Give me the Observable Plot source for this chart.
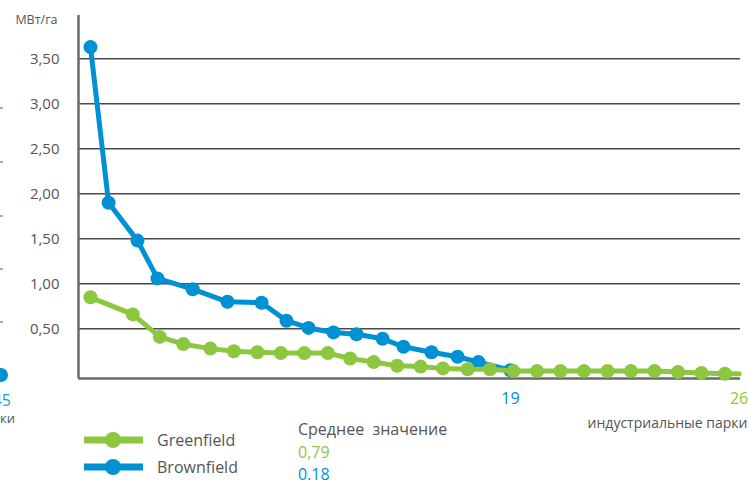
<!DOCTYPE html>
<html>
<head>
<meta charset="utf-8">
<script src="https://cdn.jsdelivr.net/npm/d3@7"></script>
<script src="https://cdn.jsdelivr.net/npm/@observablehq/plot@0.6"></script>
<style>
  html, body { margin: 0; padding: 0; background: #fff; }
  body { width: 749px; height: 480px; position: relative; overflow: hidden; font-family: "Open Sans", sans-serif; color: #555; }
  #chart { position: absolute; left: 0; top: 0; }
  .abs { position: absolute; white-space: nowrap; }
  .leg { font-size: 16px; line-height: 1; }
</style>
</head>
<body>
<div id="chart"></div>
<div class="abs" style="left:-60px; width:71px; top:389px; text-align:right; font-size:16px; color:#1a9ad6;">45</div>
<div class="abs" style="left:-60px; width:75px; top:409px; text-align:right; font-size:13px; color:#555;">парки</div>
<svg class="abs" style="left:0; top:0;" width="12" height="390">
  <g stroke="#777" stroke-width="1.2">
    <line x1="0" x2="3" y1="108" y2="108"></line>
    <line x1="0" x2="3" y1="162" y2="162"></line>
    <line x1="0" x2="3" y1="216" y2="216"></line>
    <line x1="0" x2="3" y1="269" y2="269"></line>
    <line x1="0" x2="3" y1="322" y2="322"></line>
  </g>
  <circle cx="1" cy="375" r="7" fill="#0090d4"></circle>
</svg>
<div id="legend"></div>
<script>
// ---- data ----
const seriesNames = ["Greenfield", "Brownfield"];
const seriesColors = ["#8dc63f", "#0090d4"];
const parkCounts = [26, 19];
const averages = ["0,79", "0,18"];
const yTicks = [0.5, 1.0, 1.5, 2.0, 2.5, 3.0, 3.5];

// position along the ranking (units of one park step), value in MW/ha
const greenX = [0, 1.8, 2.95, 3.95, 5.1, 6.1, 7.1, 8.1, 9.1, 10.1, 11.05, 12.05, 13.05, 14.05, 15, 16.05, 17, 18, 19, 20, 21, 22, 23, 24, 25, 26, 27];
const greenY = [0.85, 0.66, 0.41, 0.33, 0.28, 0.25, 0.24, 0.23, 0.23, 0.23, 0.17, 0.13, 0.09, 0.08, 0.06, 0.05, 0.05, 0.03, 0.03, 0.03, 0.03, 0.03, 0.03, 0.03, 0.02, 0.01, 0.0];
const greenTail = { x: 27.6, y: 0.0 };

const blueX = [0, 0.77, 2, 2.85, 4.35, 5.83, 7.28, 8.34, 9.28, 10.34, 11.32, 12.43, 13.32, 14.51, 15.62, 16.51, 17.87];
const blueY = [3.63, 1.90, 1.48, 1.06, 0.94, 0.80, 0.79, 0.59, 0.51, 0.46, 0.44, 0.39, 0.30, 0.24, 0.19, 0.13, 0.04];

const unitLabel = "МВт/га";
const xTitle = "индустриальные парки";
const avgTitle = "Среднее  значение";

// ---- build ----
const green = greenX.map((x, i) => ({ x, y: greenY[i] }));
const blue = blueX.map((x, i) => ({ x, y: blueY[i] }));
const greenLine = [...green, greenTail];
const xmin = -0.51, xmax = 27.66, ymin = -0.052, ymax = 3.981;
const fmt = d => d.toFixed(2).replace(".", ",");
const counts = [
  { x: blueX[blueX.length - 1], n: parkCounts[1], c: seriesColors[1] },
  { x: greenTail.x, n: parkCounts[0], c: seriesColors[0] }
];

const chart = Plot.plot({
  width: 749,
  height: 430,
  marginLeft: 78,
  marginRight: 9,
  marginTop: 15,
  marginBottom: 52,
  x: { domain: [xmin, xmax], axis: null },
  y: { domain: [ymin, ymax], axis: null },
  style: { fontFamily: "'Open Sans', sans-serif", background: "transparent", overflow: "visible" },
  marks: [
    Plot.ruleY(yTicks, { y: d => d, x1: xmin, x2: xmax, stroke: "#4a4a4a", strokeWidth: 1.5 }),
    Plot.text(yTicks, { x: xmin, y: d => d, text: fmt, textAnchor: "end", dx: -19, fill: "#555", fontSize: 15 }),
    Plot.ruleX([xmin], { stroke: "#6a6a6a", strokeWidth: 2.5 }),
    Plot.ruleY([ymin], { stroke: "#6a6a6a", strokeWidth: 2.5 }),
    Plot.line(blue, { x: "x", y: "y", stroke: seriesColors[1], strokeWidth: 5, strokeLinejoin: "round", strokeLinecap: "round" }),
    Plot.dot(blue, { x: "x", y: "y", r: 7, fill: seriesColors[1] }),
    Plot.line(greenLine, { x: "x", y: "y", stroke: seriesColors[0], strokeWidth: 5, strokeLinejoin: "round", strokeLinecap: "round" }),
    Plot.dot(green, { x: "x", y: "y", r: 7, fill: seriesColors[0] }),
    Plot.text(counts, { x: "x", y: ymin, text: "n", fill: "c", dy: 20, fontSize: 16 }),
    Plot.text([unitLabel], { frameAnchor: "top-left", text: d => d, textAnchor: "end", lineAnchor: "middle", dx: -21, dy: 4, fill: "#555", fontSize: 12.5 }),
    Plot.text([xTitle], { frameAnchor: "bottom-right", text: d => d, textAnchor: "end", lineAnchor: "middle", dx: 7, dy: 45, fill: "#555", fontSize: 14 })
  ]
});
document.getElementById("chart").appendChild(chart);

// ---- legend ----
const legend = document.getElementById("legend");
seriesNames.forEach((name, i) => {
  const top = 431 + i * 27;
  const sw = document.createElement("div");
  sw.className = "abs";
  sw.style.left = "84px";
  sw.style.top = top + "px";
  sw.innerHTML = `<svg width="60" height="18"><line x1="0" x2="59" y1="9" y2="9" stroke="${seriesColors[i]}" stroke-width="7"></line><circle cx="29" cy="9" r="8" fill="${seriesColors[i]}"></circle></svg>`;
  legend.appendChild(sw);
  const t = document.createElement("div");
  t.className = "abs leg";
  t.style.left = "157px";
  t.style.top = (top + 1) + "px";
  t.textContent = name;
  legend.appendChild(t);
});
const at = document.createElement("div");
at.className = "abs leg";
at.style.left = "298px";
at.style.top = "421px";
at.style.whiteSpace = "pre";
at.textContent = avgTitle;
legend.appendChild(at);
averages.forEach((v, i) => {
  const d = document.createElement("div");
  d.className = "abs leg";
  d.style.left = "298px";
  d.style.top = (444 + i * 22) + "px";
  d.style.color = seriesColors[i];
  d.textContent = v;
  legend.appendChild(d);
});
</script>
</body>
</html>
